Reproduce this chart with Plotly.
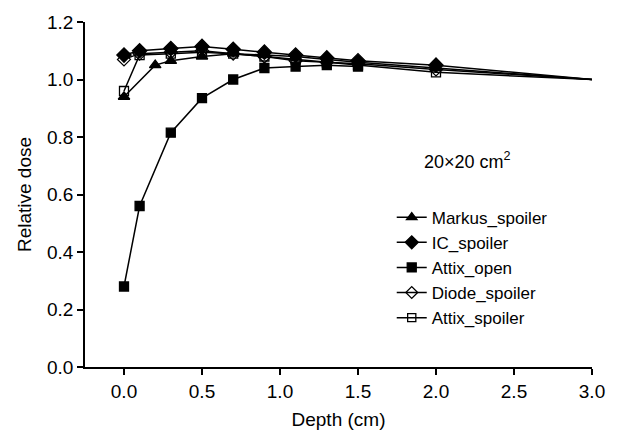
import plotly.graph_objects as go

depth_full = [0.0, 0.1, 0.3, 0.5, 0.7, 0.9, 1.1, 1.3, 1.5, 2.0, 3.0]
depth_markus = [0.0, 0.2, 0.3, 0.5, 0.7, 0.9, 1.1, 1.3, 1.5, 2.0, 3.0]
depth_open = [0.0, 0.1, 0.3, 0.5, 0.7, 0.9, 1.1, 1.3, 1.5]

markus_spoiler = [0.94, 1.05, 1.065, 1.08, 1.09, 1.085, 1.08, 1.07, 1.06, 1.04, 1.0]
ic_spoiler = [1.085, 1.10, 1.108, 1.115, 1.105, 1.095, 1.085, 1.075, 1.065, 1.05, 1.0]
attix_open = [0.28, 0.56, 0.815, 0.935, 1.0, 1.04, 1.045, 1.05, 1.045]
diode_spoiler = [1.07, 1.09, 1.095, 1.10, 1.09, 1.08, 1.065, 1.06, 1.055, 1.035, 1.0]
attix_spoiler = [0.96, 1.085, 1.09, 1.095, 1.09, 1.08, 1.07, 1.06, 1.05, 1.025, 1.0]

x_ticks = [0.0, 0.5, 1.0, 1.5, 2.0, 2.5, 3.0]
y_ticks = [0.0, 0.2, 0.4, 0.6, 0.8, 1.0, 1.2]


def sizes(n, s):
    # last point (3.0 cm) is drawn without a marker
    return [s] * (n - 1) + [0] if n == 11 else [s] * n


series = [
    ("Markus_spoiler", depth_markus, markus_spoiler, "triangle-up", 10),
    ("IC_spoiler", depth_full, ic_spoiler, "diamond", 11),
    ("Attix_open", depth_open, attix_open, "square", 9),
    ("Diode_spoiler", depth_full, diode_spoiler, "diamond-open", 10),
    ("Attix_spoiler", depth_full, attix_spoiler, "square-open", 9),
]

fig = go.Figure()
for name, xs, ys, sym, sz in series:
    fig.add_trace(go.Scatter(
        x=xs, y=ys, name=name, mode="lines+markers",
        line=dict(color="black", width=1.5),
        marker=dict(symbol=sym, size=sizes(len(xs), sz), color="black",
                    opacity=1,
                    line=dict(color="black", width=1.3)),
        cliponaxis=False,
    ))

font = "Liberation Sans, Arial, sans-serif"
fig.update_layout(
    width=617, height=439,
    margin=dict(l=85, r=22, t=17, b=70),
    paper_bgcolor="white", plot_bgcolor="white",
    font=dict(family=font, size=19, color="black"),
    showlegend=True,
    legend=dict(x=0.605, y=0.485, xanchor="left", yanchor="top",
                font=dict(size=17), bgcolor="rgba(0,0,0,0)",
                itemwidth=30, tracegroupgap=0),
    annotations=[dict(text="20×20 cm<sup>2</sup>", x=2.2, y=0.72,
                      xref="x", yref="y", showarrow=False,
                      font=dict(size=18))],
)
fig.update_xaxes(
    range=[-0.25, 3.0], tickvals=x_ticks,
    ticktext=[f"{v:.1f}" for v in x_ticks],
    showline=True, linecolor="black", linewidth=1.5,
    ticks="outside", ticklen=6, tickwidth=1.5, tickcolor="black",
    showgrid=False, zeroline=False,
    title=dict(text="Depth (cm)", standoff=12, font=dict(size=19)),
)
fig.update_yaxes(
    range=[0, 1.2], tickvals=y_ticks,
    ticktext=[f"{v:.1f}" for v in y_ticks],
    showline=True, linecolor="black", linewidth=1.5,
    ticks="outside", ticklen=6, tickwidth=1.5, tickcolor="black",
    showgrid=False, zeroline=False,
    title=dict(text="Relative dose", standoff=10, font=dict(size=19)),
)

fig.write_html("out.html")
